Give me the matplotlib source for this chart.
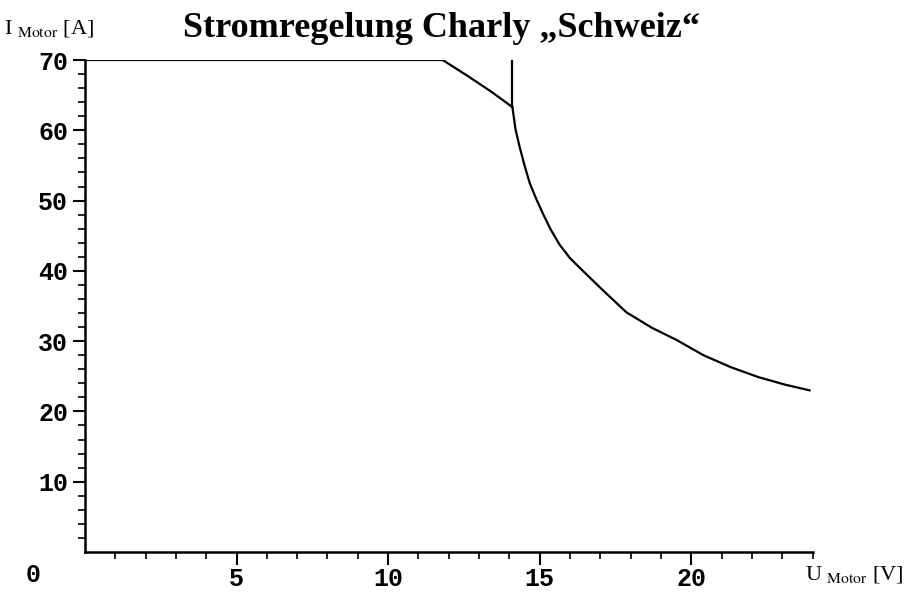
import matplotlib.pyplot as plt

# Strombegrenzung: konstant, dann Rampe, dann Kurve
flat_u = [0, 11.8]
flat_i = [70, 70]
ramp_u = [11.8, 12.6, 13.4, 14.1]
ramp_i = [70, 67.8, 65.5, 63.3]
spike_u = [14.1, 14.1]
spike_i = [69.8, 63.3]
curve_u = [14.1, 14.2, 14.34, 14.5, 14.67, 14.88, 15.1, 15.36, 15.66, 16.0, 16.4, 17.07,
           17.86, 18.7, 19.5, 20.4, 21.3, 22.2, 23.1, 23.9]
curve_i = [63.3, 60.2, 57.6, 55.0, 52.5, 50.3, 48.2, 45.9, 43.7, 41.8, 40.1, 37.3,
           34.1, 31.9, 30.2, 28.0, 26.3, 24.9, 23.8, 23.0]

xticks = [5, 10, 15, 20]
yticks = [10, 20, 30, 40, 50, 60, 70]

fig = plt.figure(figsize=(9.13, 6.0), dpi=100)
ax = fig.add_axes([0.093, 0.08, 0.797, 0.82])

for u, i in [(flat_u, flat_i), (ramp_u, ramp_i), (spike_u, spike_i), (curve_u, curve_i)]:
    ax.plot(u, i, color='black', lw=1.6)

ax.set_xlim(0, 24)
ax.set_ylim(0, 70)
ax.spines['top'].set_visible(False)
ax.spines['right'].set_visible(False)
ax.spines['left'].set_linewidth(1.8)
ax.spines['bottom'].set_linewidth(1.8)

ax.set_xticks(xticks)
ax.set_xticks(range(1, 25), minor=True)
ax.set_yticks(yticks)
ax.set_yticks(range(2, 71, 2), minor=True)
ax.tick_params(which='major', direction='out', length=9, width=1.5)
ax.tick_params(which='minor', direction='out', length=5, width=1.2)

tick_font = dict(family='Liberation Mono', weight='bold', size=18)
ax.set_xticklabels([str(t) for t in xticks], **tick_font)
ax.set_yticklabels([str(t) for t in yticks], **tick_font)
ax.tick_params(axis='y', pad=3)
ax.tick_params(axis='x', pad=2)

fig.text(0.036, 0.042, '0', ha='center', va='center', **tick_font)

fig.text(0.483, 0.953, 'Stromregelung Charly \u201eSchweiz\u201c', ha='center', va='center',
         family='Liberation Serif', weight='bold', size=26)
fig.text(0.004, 0.953, r'I $_{\rm Motor}$ [A]', ha='left', va='center',
         family='Liberation Serif', size=16, math_fontfamily='stix')
fig.text(0.882, 0.042, r'U $_{\rm Motor}$ [V]', ha='left', va='center',
         family='Liberation Serif', size=16, math_fontfamily='stix')

fig.savefig('out.png', dpi=100)
